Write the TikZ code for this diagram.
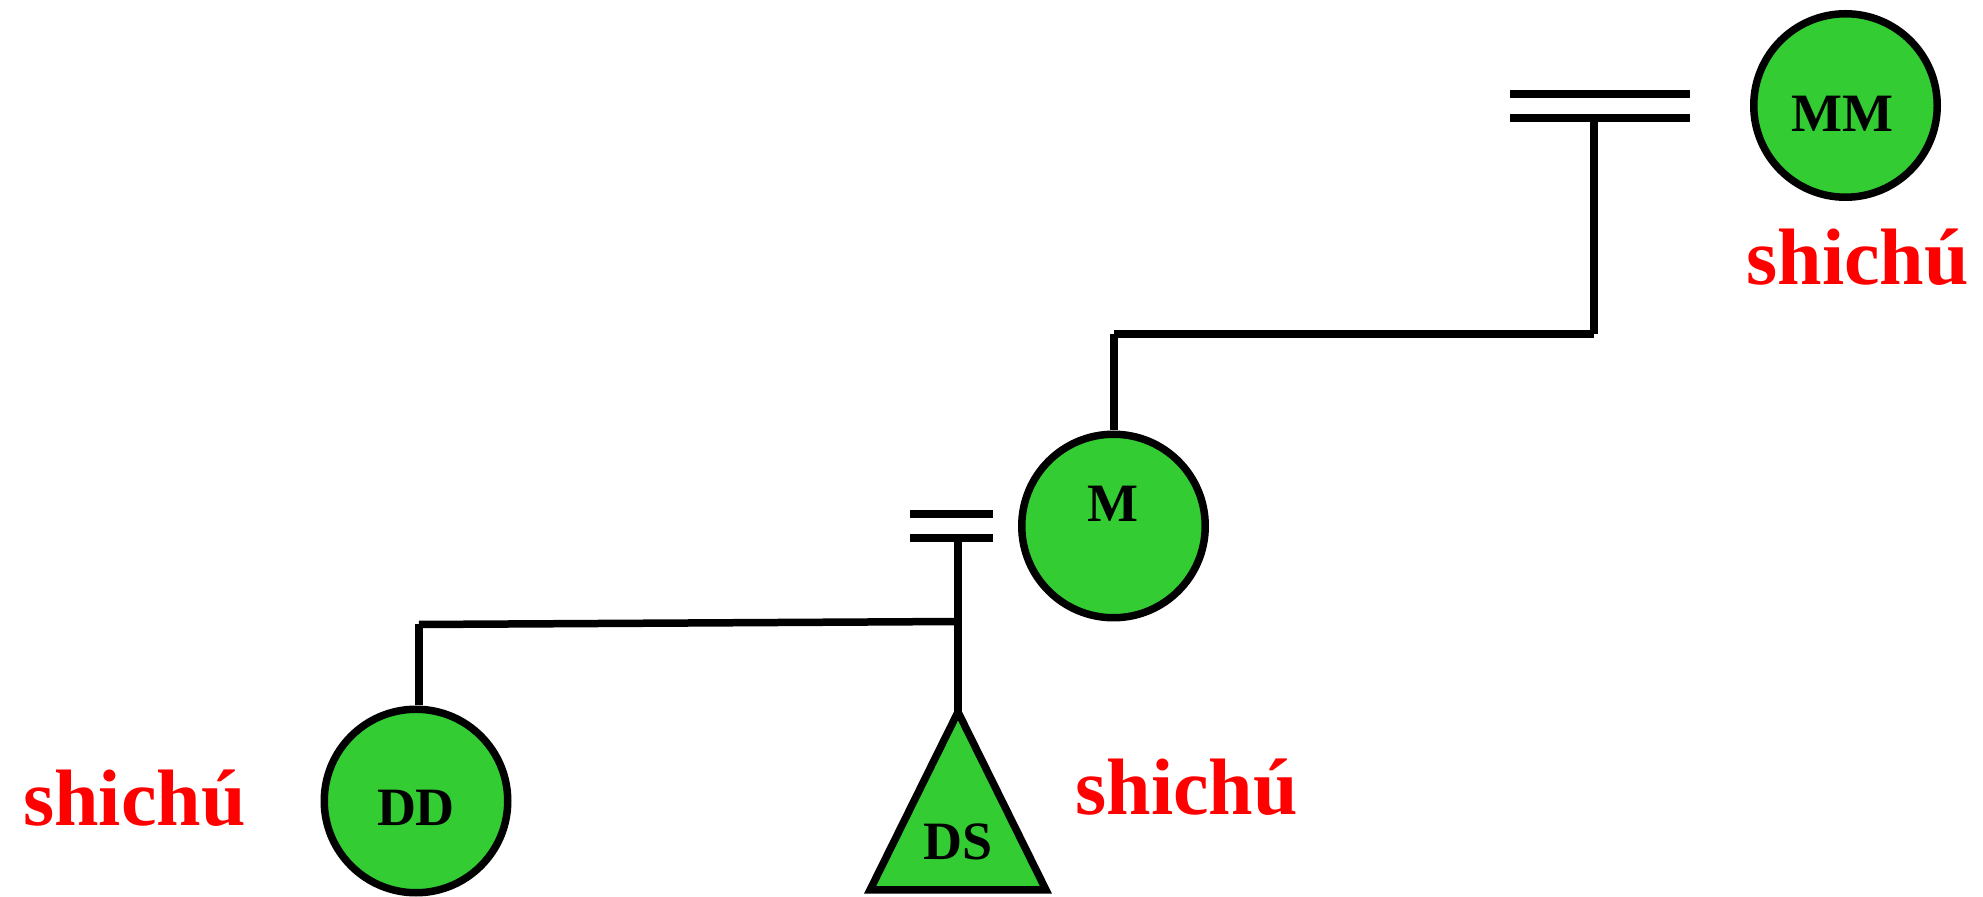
\documentclass[tikz,border=0pt]{standalone}
\usepackage{fontspec}
\setmainfont{Liberation Serif}
\definecolor{kgreen}{RGB}{51,204,51}
\definecolor{kred}{RGB}{255,0,0}
\begin{document}
\begin{tikzpicture}[x=0.5pt,y=-0.5pt,
  ln/.style={line width=3.75pt},
  person/.style={circle, draw, line width=3.75pt, fill=kgreen, minimum size=91.75pt, inner sep=0pt},
  lbl/.style={font=\fontsize{27}{27}\selectfont\bfseries, anchor=base, inner sep=0pt},
  sc/.style={font=\fontsize{40}{40}\selectfont\bfseries, text=kred, anchor=base west, inner sep=0pt}]
\useasboundingbox (0,0) rectangle (1983,897);

% persons
\node[person] (MM) at (1845.5,105.5) {};
\node[person] (M) at (1113.5,526) {};
\node[person] (DD) at (416,801) {};
\coordinate (DSapex) at (958,712);
\coordinate (DSbl) at (870,890);
\coordinate (DSbr) at (1046,890);
\draw[ln, fill=kgreen, line join=miter] (DSapex) -- (DSbr) -- (DSbl) -- cycle;

% labels
\node[lbl] (tMM) at (1842,132) {MM};
\node[lbl] (tM) at (1113,522) {M};
\node[lbl] (tDD) at (416,826) {DD};
\node[lbl] (tDS) at (958,860) {DS};
\node[sc] (sMM) at (1746,285) {shichú};
\node[sc] (sDD) at (23,826) {shichú};
\node[sc] (sDS) at (1075,815) {shichú};

% MM marriage bars
\coordinate (b1L) at (1510,94);
\coordinate (b1R) at (1690,94);
\coordinate (b2L) at (1510,118);
\coordinate (b2R) at (1690,118);
\draw[ln] (b1L) -- (b1R);
\draw[ln] (b2L) -- (b2R);
\coordinate (mmT) at (1594,118);
\coordinate (c1) at (1594,334);
\coordinate (c2) at (1114,334);
\draw[ln] (mmT) -- (c1);
\draw[ln] (c1) -- (c2);
\draw[ln] (c2) -- (c2 |- M.north);

% M marriage bars
\coordinate (m1L) at (910,514);
\coordinate (m1R) at (993,514);
\coordinate (m2L) at (910,538);
\coordinate (m2R) at (993,538);
\draw[ln] (m1L) -- (m1R);
\draw[ln] (m2L) -- (m2R);
\coordinate (mT) at (958,538);
\coordinate (c3) at (419,624.5);
\coordinate (c4) at (958,621.5);
\draw[ln] (c3) -- (c4);
\draw[ln] (c3) -- (c3 |- DD.north);
\draw[ln] (mT) -- (DSapex);
\end{tikzpicture}
\end{document}
